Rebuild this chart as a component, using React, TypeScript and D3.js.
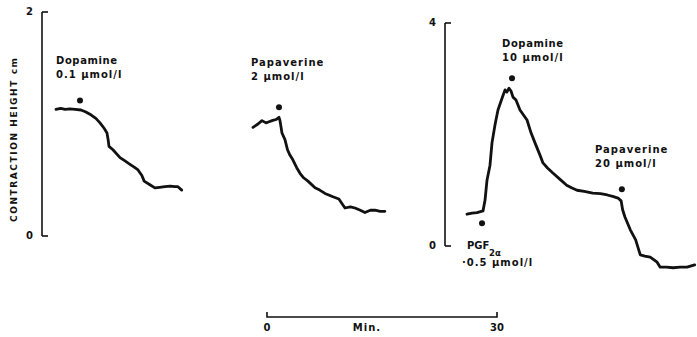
import React from "react";
import * as d3 from "d3";

// time in min, contraction height in cm
const trace1 = [
  [0, 1.13], [0.6, 1.14], [1.2, 1.13], [1.8, 1.135], [2.5, 1.13], [3.26, 1.125], [3.9, 1.107],
  [4.6, 1.08], [5.2, 1.05], [5.74, 1.01], [6.3, 0.96], [6.65, 0.92], [6.8, 0.86], [6.91, 0.8],
  [7.43, 0.77], [8.35, 0.7], [9.0, 0.67], [9.65, 0.64], [10.2, 0.615], [10.7, 0.59], [11.2, 0.54],
  [11.5, 0.49], [12.3, 0.455], [12.9, 0.43], [13.5, 0.435], [14.2, 0.44], [14.9, 0.445],
  [15.5, 0.44], [15.9, 0.44], [16.4, 0.41],
];
const trace2 = [
  [0, 0.97], [0.65, 1.0], [1.17, 1.03], [1.7, 1.01], [2.1, 1.02], [2.48, 1.03], [3.0, 1.04],
  [3.39, 1.06], [3.52, 1.03], [3.78, 0.92], [4.17, 0.86], [4.5, 0.77], [4.83, 0.72], [5.2, 0.68],
  [5.7, 0.61], [6.13, 0.56], [6.6, 0.52], [7.17, 0.49], [8.09, 0.43], [8.7, 0.41], [9.39, 0.38],
  [10.43, 0.35], [11.2, 0.33], [12.0, 0.25], [12.7, 0.26], [13.3, 0.25], [14.0, 0.23],
  [14.6, 0.21], [15.3, 0.23], [15.9, 0.23], [16.6, 0.22], [17.2, 0.22],
];
const trace3 = [
  [0, 0.57], [0.65, 0.59], [1.3, 0.6], [2.09, 0.63], [2.35, 0.82], [2.61, 1.18], [3.0, 1.45],
  [3.26, 1.85], [3.65, 2.17], [4.04, 2.44], [4.57, 2.65], [4.96, 2.8], [5.2, 2.76], [5.48, 2.83],
  [5.74, 2.78], [6.0, 2.67], [6.39, 2.62], [6.91, 2.44], [7.83, 2.26], [8.35, 2.03], [8.87, 1.85],
  [9.52, 1.63], [9.91, 1.49], [10.5, 1.4], [11.2, 1.31], [12.1, 1.2], [13.0, 1.09], [13.7, 1.04],
  [14.35, 1.0], [15.3, 0.98], [16.4, 0.95], [17.4, 0.94], [18.3, 0.915], [19.0, 0.89], [19.7, 0.86],
  [20.1, 0.81], [20.3, 0.65], [20.6, 0.52], [21.3, 0.29], [22.0, 0.11], [22.2, 0.02], [22.6, -0.16],
  [23.2, -0.18], [23.9, -0.2], [24.8, -0.29], [25.2, -0.38], [26.0, -0.38], [26.9, -0.39],
  [27.8, -0.38], [28.7, -0.38], [29.7, -0.34],
];

// drug additions: [time, height]
const marks1 = [[3.13, 1.21]];
const marks2 = [[3.39, 1.15]];
const marks3 = [[1.96, 0.41], [5.87, 3.01], [20.2, 1.02]];

const ticks12 = [0, 2];
const ticks3 = [0, 4];
const barTicks = [0, 30];

const font = "'DejaVu Sans', sans-serif";

export default function App() {
  const bar = d3.scaleLinear().domain([0, 30]).range([267, 497]);
  const span = bar(30) - bar(0);
  const x1 = d3.scaleLinear().domain([0, 30]).range([56, 56 + span]);
  const x2 = d3.scaleLinear().domain([0, 30]).range([253, 253 + span]);
  const x3 = d3.scaleLinear().domain([0, 30]).range([467, 467 + span]);
  const y12 = d3.scaleLinear().domain([0, 2]).range([236, 12]);
  const y3 = d3.scaleLinear().domain([0, 4]).range([246, 23]);

  const path = (data: number[][], x: any, y: any) =>
    d3.line<number[]>().x(d => x(d[0])).y(d => y(d[1]))(data) as string;

  const txt = { fontFamily: font, fontSize: 10, fontWeight: "bold" as const, letterSpacing: 1, fill: "#111" };

  const axis = (ax: number, y: any, ticks: number[]) => (
    <g>
      <line x1={ax} x2={ax} y1={y(ticks[0])} y2={y(ticks[1])} stroke="#111" strokeWidth={1.6} />
      {ticks.map(t => (
        <g key={t}>
          <line x1={ax} x2={ax + 6} y1={y(t)} y2={y(t)} stroke="#111" strokeWidth={1.6} />
          <text x={ax - 9} y={y(t) + 3} textAnchor="end" style={{ ...txt, letterSpacing: 0 }}>{t}</text>
        </g>
      ))}
    </g>
  );

  const trace = (data: number[][], marks: number[][], x: any, y: any) => (
    <g>
      <path d={path(data, x, y)} fill="none" stroke="#111" strokeWidth={2.8} strokeLinejoin="round" strokeLinecap="round" />
      {marks.map((m, i) => (
        <circle key={i} cx={x(m[0])} cy={y(m[1])} r={3} fill="#111" />
      ))}
    </g>
  );

  return (
    <svg width={697} height={337} style={{ position: "absolute", left: 0, top: 0, background: "#fff" }}>
      <text transform="translate(17,140) rotate(-90)" textAnchor="middle"
        style={{ ...txt, fontSize: 9, letterSpacing: 0 }} textLength={164} lengthAdjust="spacing">
        CONTRACTION HEIGHT cm
      </text>

      {axis(42, y12, ticks12)}
      {axis(445, y3, ticks3)}

      {trace(trace1, marks1, x1, y12)}
      {trace(trace2, marks2, x2, y12)}
      {trace(trace3, marks3, x3, y3)}

      <text x={56} y={64} style={{ ...txt, letterSpacing: 0.6 }}>Dopamine</text>
      <text x={56} y={78} style={txt}>0.1 μmol/l</text>
      <text x={251} y={66} style={txt}>Papaverine</text>
      <text x={251} y={80} style={txt}>2 μmol/l</text>
      <text x={502} y={47} style={{ ...txt, letterSpacing: 0.6 }}>Dopamine</text>
      <text x={502} y={61} style={txt}>10 μmol/l</text>
      <text x={595} y={153} style={txt}>Papaverine</text>
      <text x={595} y={167} style={txt}>20 μmol/l</text>
      <text x={467} y={249} style={{ ...txt, letterSpacing: 0 }}>PGF</text>
      <text x={489} y={256} style={{ ...txt, fontSize: 8.5, letterSpacing: 0 }}>2α</text>
      <text x={462} y={266} style={txt}>·0.5 μmol/l</text>

      <path d={`M${bar(0)},${312}V${317}H${bar(30)}V${312}`} fill="none" stroke="#111" strokeWidth={1.6} />
      {barTicks.map(t => (
        <text key={t} x={bar(t)} y={331} textAnchor="middle" style={{ ...txt, letterSpacing: 0 }}>{t}</text>
      ))}
      <text x={bar(15) - 15} y={331} textAnchor="middle" style={txt}>Min.</text>
    </svg>
  );
}
